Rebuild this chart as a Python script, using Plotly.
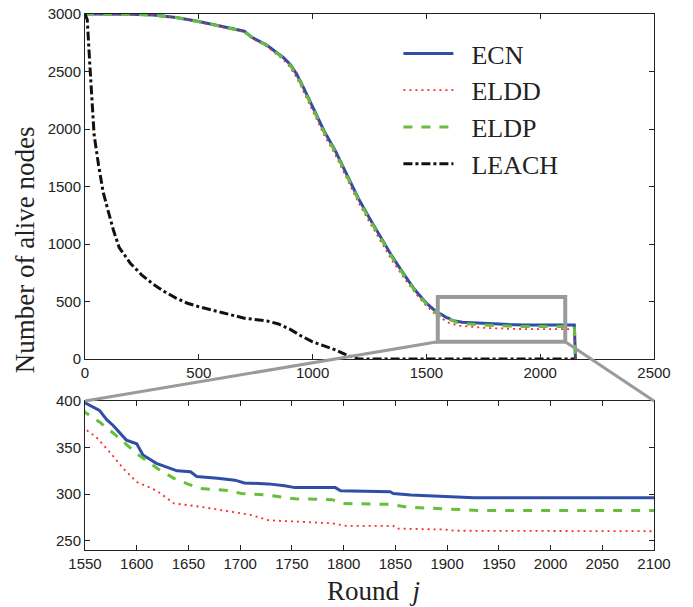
import plotly.graph_objects as go

# ---------------- data ----------------
rounds_main = [0, 100, 200, 300, 400, 500, 600, 650, 700, 735, 760, 800, 840, 870, 900, 930, 960,
               1000, 1050, 1100, 1150, 1200, 1250, 1300, 1350, 1400, 1450, 1500]
ecn_main = [3000, 3000, 2998, 2992, 2970, 2935, 2890, 2870, 2850, 2795, 2770, 2728, 2667, 2625, 2565,
            2478, 2360, 2190, 1985, 1810, 1600, 1400, 1225, 1055, 890, 740, 600, 485]
eldd_main = [3000, 3000, 2997, 2990, 2967, 2930, 2885, 2865, 2843, 2787, 2760, 2716, 2652, 2605, 2540,
             2448, 2325, 2155, 1950, 1775, 1565, 1365, 1190, 1020, 855, 710, 575, 462]
eldp_main = [3000, 3000, 2998, 2991, 2969, 2933, 2888, 2868, 2848, 2793, 2767, 2725, 2663, 2620, 2558,
             2470, 2350, 2180, 1975, 1800, 1590, 1390, 1215, 1045, 880, 732, 592, 478]

ecn_zoom_x = [1550, 1564, 1571, 1577, 1590, 1600, 1606, 1619, 1639, 1652, 1658, 1678, 1695, 1704,
              1727, 1743, 1753, 1792, 1797, 1845, 1848, 1865, 1891, 1907, 1926, 2150]
ecn_zoom_y = [398, 390, 380, 374, 358, 354, 342, 333, 325, 324, 319, 317, 315, 312,
              311, 309, 307, 307, 303.5, 302.5, 300.7, 299, 298, 297, 296, 296]
eldp_zoom_x = [1550, 1564, 1580, 1600, 1620, 1636, 1649, 1662, 1688, 1701, 1727, 1743, 1753, 1789,
               1799, 1845, 1862, 1930, 2150]
eldp_zoom_y = [388, 377.5, 363, 343.6, 327.5, 317, 311, 306, 304, 300.7, 299, 296.4, 295, 294,
               290, 289, 286, 282.5, 282.5]
eldd_zoom_x = [1550, 1561, 1574, 1587, 1600, 1619, 1636, 1662, 1695, 1711, 1727, 1760, 1789, 1802,
               1848, 1851, 1897, 1907, 2150]
eldd_zoom_y = [370, 361, 345, 327.5, 313, 304, 290, 286.4, 280, 277.5, 272, 270, 268.6, 266,
               266, 263, 262, 260.7, 260]
end_round = [2155]
end_value = [0]

leach_x = [0, 10, 20, 30, 40, 60, 80, 100, 125, 150, 200, 250, 300, 350, 400, 450, 500, 600, 700,
           800, 850, 900, 950, 1000, 1050, 1100, 1150, 1200, 2150]
leach_y = [3000, 2950, 2600, 2250, 1950, 1680, 1450, 1300, 1120, 970, 830, 730, 650, 585, 530, 485,
           455, 405, 355, 330, 305, 260, 200, 150, 115, 80, 35, 0, 0]

zoom_box_x = [1550, 2110]
zoom_box_y = [150, 540]

top_x_range = [0, 2500]
top_y_range = [0, 3000]
bot_x_range = [1550, 2100]
bot_y_range = [240, 400]

# ---------------- build ----------------
ecn_x = rounds_main + ecn_zoom_x + end_round
ecn_y = ecn_main + ecn_zoom_y + end_value
eldd_x = rounds_main + eldd_zoom_x + end_round
eldd_y = eldd_main + eldd_zoom_y + end_value
eldp_x = rounds_main + eldp_zoom_x + end_round
eldp_y = eldp_main + eldp_zoom_y + end_value

BLUE = "#2F4FA6"
RED = "#FF2A2A"
GREEN = "#66BF3C"
BLACK = "#111111"
GREY = "#9A9A9A"
SP = "&nbsp;&nbsp;"

fig = go.Figure()
series = [
    ("ECN", ecn_x, ecn_y, dict(color=BLUE, width=3, dash="solid")),
    ("ELDD", eldd_x, eldd_y, dict(color=RED, width=1.8, dash="2px,4px")),
    ("ELDP", eldp_x, eldp_y, dict(color=GREEN, width=3, dash="dash")),
]
for name, xs, ys, ln in series:
    fig.add_trace(go.Scatter(x=xs, y=ys, mode="lines", name=SP + name, line=ln, xaxis="x", yaxis="y"))
fig.add_trace(go.Scatter(x=leach_x, y=leach_y, mode="lines", name=SP + "LEACH",
                         line=dict(color=BLACK, width=3, dash="dashdot"), xaxis="x", yaxis="y"))
for name, xs, ys, ln in series:
    fig.add_trace(go.Scatter(x=xs, y=ys, mode="lines", name=name, line=ln, xaxis="x2", yaxis="y2",
                             showlegend=False))

# page offset of the plot div (body margin)
OFF = 8
W, H = 693 - OFF, 607 - OFF
# plot area in page pixels
P_L, P_R, P_T, P_B = 85, 646, 14, 550
ml, mr, mt = P_L - OFF, (W + OFF) - P_R - OFF, P_T - OFF
mb = H - (P_B - OFF)
pw, ph = P_R - P_L, P_B - P_T


def fx(px):
    return (px - P_L) / pw


def fy(py):
    return (P_B - py) / ph


top_dom = [fy(359), 1.0]
bot_dom = [0.0, fy(401)]

tickfont = dict(family="Liberation Sans, Arial, sans-serif", size=15, color="#222")
axcommon = dict(showline=True, linecolor="#222", linewidth=1, mirror="ticks", ticks="inside",
                ticklen=5, tickcolor="#222", showgrid=False, zeroline=False, tickfont=tickfont,
                automargin=False, ticklabeloverflow="allow")
serif_family = "Liberation Serif, Times New Roman, serif"

fig.update_layout(
    width=W, height=H, margin=dict(l=ml, r=mr, t=mt, b=mb, autoexpand=False),
    paper_bgcolor="white", plot_bgcolor="white",
    xaxis=dict(domain=[0, 1], range=top_x_range, tickvals=[0, 500, 1000, 1500, 2000, 2500],
               anchor="y", **axcommon),
    yaxis=dict(domain=top_dom, range=top_y_range, tickvals=[0, 500, 1000, 1500, 2000, 2500, 3000],
               anchor="x", **axcommon),
    xaxis2=dict(domain=[0, 1], range=bot_x_range, tickvals=list(range(1550, 2101, 50)),
                anchor="y2", **axcommon),
    yaxis2=dict(domain=bot_dom, range=bot_y_range, tickvals=[250, 300, 350, 400],
                anchor="x2", **axcommon),
    legend=dict(x=fx(394), y=fy(30), xanchor="left", yanchor="top",
                bgcolor="rgba(0,0,0,0)", font=dict(family=serif_family, size=26, color="#222"),
                itemwidth=50, tracegroupgap=0),
    showlegend=True,
)

# zoom box
fig.add_shape(type="rect", xref="x", yref="y", x0=zoom_box_x[0], x1=zoom_box_x[1],
              y0=zoom_box_y[0], y1=zoom_box_y[1], line=dict(color=GREY, width=4))


def px_top(xv):
    return (xv - top_x_range[0]) / (top_x_range[1] - top_x_range[0])


def py_top(yv):
    return top_dom[0] + (yv - top_y_range[0]) / (top_y_range[1] - top_y_range[0]) * (top_dom[1] - top_dom[0])


fig.add_shape(type="line", xref="paper", yref="paper",
              x0=px_top(zoom_box_x[0]), y0=py_top(zoom_box_y[0]), x1=0, y1=bot_dom[1],
              line=dict(color=GREY, width=3))
fig.add_shape(type="line", xref="paper", yref="paper",
              x0=px_top(zoom_box_x[1]), y0=py_top(zoom_box_y[0]), x1=1, y1=bot_dom[1],
              line=dict(color=GREY, width=3))

serif = dict(family=serif_family, size=27, color="#222")
fig.add_annotation(text="Number of alive nodes", xref="paper", yref="paper",
                   x=fx(26), y=fy(250), textangle=-90, showarrow=False,
                   font=serif, xanchor="center", yanchor="middle")
fig.add_annotation(text="Round  <i>j</i>", xref="paper", yref="paper",
                   x=fx(369), y=fy(591), showarrow=False,
                   font=serif, xanchor="center", yanchor="middle")

fig.write_html("out.html")
